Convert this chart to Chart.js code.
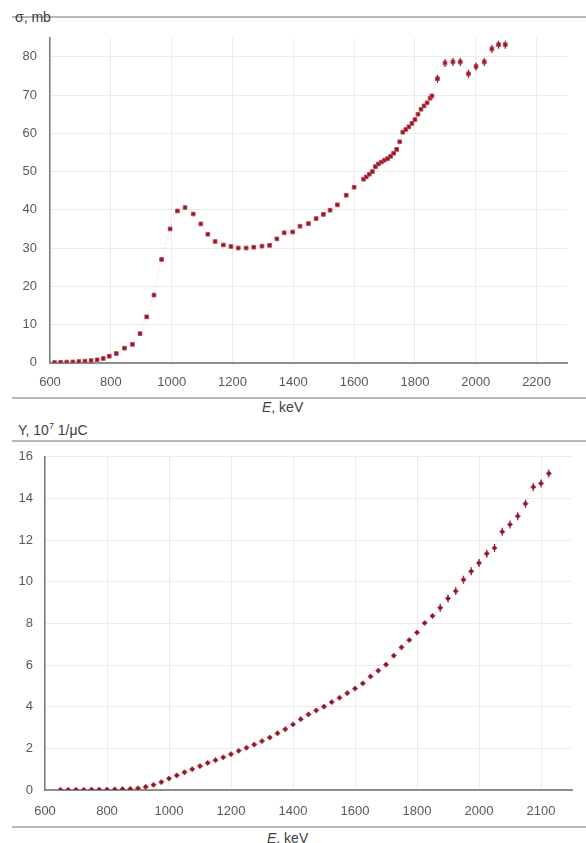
<!DOCTYPE html>
<html>
<head>
<meta charset="utf-8">
<script src="https://cdn.jsdelivr.net/npm/chart.js@4.4.1/dist/chart.umd.min.js"></script>
<style>
    body { margin: 0; background: #fff; width: 586px; height: 843px; position: relative; overflow: hidden;
           font-family: "Liberation Sans", Arial, sans-serif; color: #404040; }
    .frame { position: absolute; left: 12px; right: 0; height: 0; border-top: 2px solid #b8b8b8; }
    .lbl { position: absolute; font-size: 14px; color: #404040; white-space: nowrap; line-height: 16px; }
    .lbl sup { font-size: 9px; }
    canvas { position: absolute; left: 0; }
</style>
</head>
<body>
<div class="frame" style="top:16px"></div>
<div class="lbl" style="left:15px;top:9px">σ, mb</div>
<canvas id="sigmaChart" width="586" height="378" style="top:17px"></canvas>
<div class="frame" style="top:397px"></div>
<div class="lbl" style="left:262px;top:399px"><i>E</i>, keV</div>

<div class="lbl" style="left:18px;top:418px">Y, 10<sup>7</sup> 1/μC</div>
<div class="frame" style="top:440px"></div>
<canvas id="yieldChart" width="586" height="388" style="top:437px"></canvas>
<div class="frame" style="top:826px"></div>
<div class="lbl" style="left:267px;top:830px"><i>E</i>, keV</div>

<script>
// Сечение реакции, mb
const sigmaE = [615, 635, 655, 675, 695, 715, 735, 755, 775, 795, 818, 845, 871, 896, 918, 942, 967, 995,
    1019, 1044, 1071, 1096, 1119, 1143, 1170, 1195, 1219, 1245, 1270, 1297, 1322, 1346, 1370, 1398, 1422,
    1450, 1475, 1499, 1521, 1545, 1574, 1600, 1631, 1640, 1650, 1660, 1670, 1680, 1690, 1700, 1710, 1720,
    1730, 1740, 1750, 1760, 1770, 1780, 1790, 1800, 1810, 1820, 1830, 1840, 1850, 1856,
    1874, 1899, 1925, 1949, 1976, 2001, 2028, 2053, 2075, 2097];
const sigmaVal = [0.05, 0.1, 0.15, 0.2, 0.3, 0.4, 0.55, 0.75, 1.1, 1.7, 2.4, 3.8, 4.8, 7.6, 12, 17.7, 27, 35,
    39.7, 40.6, 38.9, 36.3, 33.6, 31.7, 30.8, 30.4, 30.0, 30.0, 30.2, 30.5, 30.7, 32.4, 34.0, 34.2, 35.7,
    36.4, 37.7, 38.8, 39.9, 41.3, 43.8, 45.9, 48.0, 48.6, 49.3, 50.0, 51.3, 52.0, 52.5, 53.0, 53.4, 54.0,
    54.8, 55.8, 57.8, 60.3, 61.0, 61.7, 62.6, 63.6, 65.0, 66.3, 67.2, 68.0, 69.2, 69.8,
    74.3, 78.4, 78.7, 78.7, 75.6, 77.5, 78.7, 82.1, 83.2, 83.2];

// Выход, 10^7 1/мкКл
const yieldE = [650, 675, 700, 725, 750, 775, 800, 825, 850, 875, 900, 925, 950, 975, 1000, 1025, 1050,
    1075, 1100, 1125, 1150, 1175, 1200, 1225, 1250, 1275, 1300, 1325, 1350, 1375, 1400, 1425, 1450, 1475,
    1500, 1525, 1550, 1575, 1600, 1625, 1650, 1675, 1700, 1725, 1750, 1775, 1800, 1825, 1850, 1875, 1900,
    1925, 1950, 1975, 2000, 2025, 2050, 2075, 2100, 2125, 2150, 2175, 2200, 2225];
const yieldVal = [0.01, 0.01, 0.01, 0.01, 0.02, 0.02, 0.02, 0.03, 0.04, 0.05, 0.08, 0.15, 0.25, 0.38, 0.55,
    0.7, 0.85, 1.0, 1.15, 1.3, 1.43, 1.57, 1.72, 1.88, 2.03, 2.18, 2.35, 2.52, 2.72, 2.92, 3.15, 3.4, 3.63,
    3.82, 4.0, 4.22, 4.43, 4.65, 4.87, 5.12, 5.45, 5.73, 6.02, 6.45, 6.85, 7.2, 7.56, 8.02, 8.36, 8.75, 9.2,
    9.55, 10.1, 10.5, 10.9, 11.35, 11.62, 12.4, 12.75, 13.15, 13.75, 14.55, 14.72, 15.2];

// Подписи осей
const xTickPos = [600, 800, 1000, 1200, 1400, 1600, 1800, 2000, 2200];
const sigmaXTicks = ['600', '800', '1000', '1200', '1400', '1600', '1800', '2000', '2200'];
const yieldXTicks = ['600', '800', '1000', '1200', '1400', '1600', '1800', '2000', '2100'];
const sigmaYTicks = [0, 10, 20, 30, 40, 50, 60, 70, 80];
const yieldYTicks = [0, 2, 4, 6, 8, 10, 12, 14, 16];

const markFill = '#7a1f2d';
const markEdge = '#c9404f';

function toPoints(xs, ys, fromE) {
    return xs.map((x, i) => ({ x: x, y: ys[i] })).filter(p => p.x >= (fromE || 0));
}

function makeScales(cfg) {
    return {
        x: {
            type: 'linear', min: 600, max: 2300,
            afterBuildTicks: s => { s.ticks = xTickPos.map(v => ({ value: v })); },
            afterFit: s => { s.height = cfg.xh; },
            grid: { color: '#ececec', drawTicks: false },
            border: { color: '#8e8e8e', width: 2 },
            ticks: {
                autoSkip: false, padding: cfg.xpad, color: '#595959', font: { size: 13 },
                callback: (v, i) => cfg.xlabels[i]
            }
        },
        y: {
            min: 0, max: cfg.ymax,
            afterBuildTicks: s => { s.ticks = cfg.yticks.map(v => ({ value: v })); },
            afterFit: s => { s.width = cfg.yw; },
            grid: { color: '#ececec', drawTicks: false },
            border: { color: '#7a7a7a', width: 1.5 },
            ticks: { autoSkip: false, padding: cfg.ypad, color: '#595959', font: { size: 13 } }
        }
    };
}

function makeChart(id, xs, ys, errFrom, style, pad, cfg) {
    return new Chart(document.getElementById(id), {
        type: 'scatter',
        data: {
            datasets: [
                {
                    data: toPoints(xs, ys),
                    showLine: true,
                    borderColor: 'rgba(225, 70, 90, 0.35)',
                    borderWidth: 1,
                    borderDash: [1, 3],
                    pointStyle: style,
                    pointRadius: 2.6,
                    pointBackgroundColor: markFill,
                    pointBorderColor: markEdge,
                    pointBorderWidth: 1
                },
                {
                    // вертикальные погрешности у верхних точек
                    data: toPoints(xs, ys, errFrom),
                    showLine: false,
                    pointStyle: 'line',
                    rotation: 90,
                    pointRadius: 4,
                    pointBorderColor: '#6a1a26',
                    pointBorderWidth: 1.2
                }
            ]
        },
        options: {
            responsive: false,
            animation: false,
            layout: { padding: pad },
            plugins: { legend: { display: false }, tooltip: { enabled: false } },
            scales: makeScales(cfg)
        }
    });
}

makeChart('sigmaChart', sigmaE, sigmaVal, 1870, 'rect',
    { top: 10, right: 19, left: 0, bottom: 0 },
    { xh: 32.3, xpad: 12, xlabels: sigmaXTicks, ymax: 85, yticks: sigmaYTicks, yw: 50, ypad: 13 });

makeChart('yieldChart', yieldE, yieldVal, 1875, 'rectRot',
    { top: 2, right: 14, left: 0, bottom: 0 },
    { xh: 35, xpad: 14, xlabels: yieldXTicks, ymax: 16, yticks: yieldYTicks, yw: 45, ypad: 12 });
</script>
</body>
</html>
